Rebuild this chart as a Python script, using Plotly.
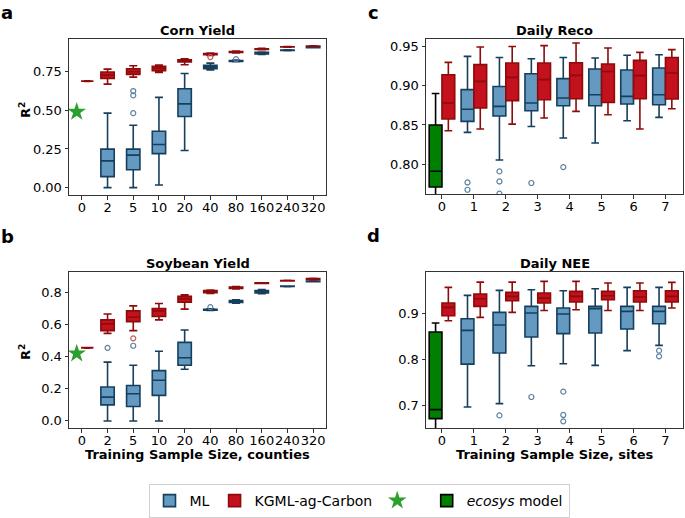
import plotly.graph_objects as go

# ---------------- data ----------------
corn_cats = ["0", "2", "5", "10", "20", "40", "80", "160", "240", "320"]
soy_cats = ["0", "2", "5", "10", "20", "40", "80", "160", "240", "320"]
site_cats = ["0", "1", "2", "3", "4", "5", "6", "7"]

# five-number summaries: (lower whisker, q1, median, q3, upper whisker)
corn_ml = [(0.000, 0.071, 0.173, 0.249, 0.482),
           (0.000, 0.115, 0.210, 0.249, 0.404),
           (0.017, 0.220, 0.279, 0.365, 0.584),
           (0.240, 0.460, 0.542, 0.640, 0.739),
           (0.761, 0.769, 0.780, 0.791, 0.806),
           (0.815, 0.817, 0.820, 0.822, 0.825),
           (0.862, 0.865, 0.870, 0.876, 0.878),
           (0.887, 0.888, 0.890, 0.891, 0.892),
           (0.905, 0.906, 0.908, 0.909, 0.910)]
corn_ml_outliers = {"5": [0.625, 0.597, 0.482], "80": [0.832]}
corn_kg = [(0.670, 0.707, 0.728, 0.748, 0.767),
           (0.715, 0.733, 0.750, 0.769, 0.789),
           (0.746, 0.756, 0.772, 0.785, 0.793),
           (0.795, 0.813, 0.819, 0.828, 0.834),
           (0.856, 0.860, 0.864, 0.867, 0.871),
           (0.872, 0.875, 0.877, 0.880, 0.884),
           (0.893, 0.895, 0.897, 0.899, 0.901),
           (0.909, 0.910, 0.911, 0.912, 0.913),
           (0.914, 0.915, 0.916, 0.917, 0.918)]
corn_kg_outliers = {"40": [0.845]}
corn_kg_zero = (0.687, 0.688, 0.689, 0.690, 0.691)
corn_ecosys = 0.49

soy_ml = [(0.000, 0.100, 0.148, 0.211, 0.366),
          (0.000, 0.090, 0.169, 0.221, 0.347),
          (0.000, 0.159, 0.253, 0.313, 0.434),
          (0.322, 0.347, 0.393, 0.489, 0.566),
          (0.687, 0.689, 0.692, 0.695, 0.698),
          (0.733, 0.737, 0.744, 0.750, 0.754),
          (0.792, 0.797, 0.806, 0.812, 0.817),
          (0.836, 0.837, 0.838, 0.839, 0.840),
          (0.866, 0.867, 0.869, 0.870, 0.871)]
soy_ml_outliers = {"2": [0.455], "5": [0.468], "40": [0.708]}
soy_kg = [(0.545, 0.562, 0.604, 0.629, 0.666),
          (0.562, 0.618, 0.645, 0.685, 0.716),
          (0.629, 0.650, 0.685, 0.700, 0.731),
          (0.696, 0.739, 0.760, 0.775, 0.785),
          (0.794, 0.798, 0.806, 0.812, 0.815),
          (0.822, 0.825, 0.829, 0.833, 0.836),
          (0.855, 0.856, 0.858, 0.859, 0.860),
          (0.871, 0.872, 0.873, 0.874, 0.875),
          (0.877, 0.880, 0.883, 0.886, 0.888)]
soy_kg_outliers = {"5": [0.514]}
soy_kg_zero = (0.453, 0.454, 0.455, 0.456, 0.457)
soy_ecosys = 0.42

reco_ecosys = (0.750, 0.771, 0.791, 0.850, 0.890)
reco_ml = [(0.8405, 0.8545, 0.8700, 0.8950, 0.9374),
           (0.8053, 0.8613, 0.8736, 0.8990, 0.9360),
           (0.8480, 0.8680, 0.8780, 0.9153, 0.9344),
           (0.8333, 0.8745, 0.8843, 0.9090, 0.9360),
           (0.8269, 0.8745, 0.8885, 0.9213, 0.9353),
           (0.8554, 0.8767, 0.8864, 0.9200, 0.9387),
           (0.8596, 0.8758, 0.8885, 0.9225, 0.9395)]
reco_ml_outliers = {"1": [0.7767, 0.7674], "2": [0.7908, 0.7780, 0.7625],
                    "3": [0.7760], "4": [0.7963]}
reco_kg = [(0.8426, 0.8575, 0.8780, 0.9140, 0.9297),
           (0.8448, 0.8716, 0.9055, 0.9268, 0.9493),
           (0.8510, 0.8810, 0.9106, 0.9290, 0.9500),
           (0.8588, 0.8820, 0.9077, 0.9290, 0.9510),
           (0.8673, 0.8834, 0.9131, 0.9293, 0.9544),
           (0.8630, 0.8787, 0.9180, 0.9277, 0.9480),
           (0.8448, 0.8834, 0.9128, 0.9323, 0.9425),
           (0.8707, 0.8830, 0.9162, 0.9360, 0.9459)]

nee_ecosys = (0.640, 0.6709, 0.6905, 0.860, 0.8797)
nee_ml = [(0.6964, 0.7900, 0.8636, 0.8890, 0.9400),
          (0.7036, 0.8142, 0.8753, 0.9029, 0.9509),
          (0.7865, 0.8490, 0.9015, 0.9160, 0.9524),
          (0.7909, 0.8564, 0.8993, 0.9124, 0.9500),
          (0.7873, 0.8578, 0.9110, 0.9160, 0.9545),
          (0.8193, 0.8666, 0.9050, 0.9160, 0.9574),
          (0.8309, 0.8780, 0.9050, 0.9160, 0.9574)]
nee_ml_outliers = {"2": [0.678], "3": [0.7182], "4": [0.7298, 0.679, 0.665],
                   "7": [0.8193, 0.8069]}
nee_kg = [(0.8847, 0.8956, 0.9138, 0.9233, 0.9574),
          (0.8920, 0.9160, 0.9327, 0.9430, 0.9690),
          (0.9029, 0.9284, 0.9378, 0.9465, 0.9690),
          (0.9070, 0.9233, 0.9340, 0.9450, 0.9705),
          (0.9087, 0.9255, 0.9378, 0.9487, 0.9705),
          (0.9070, 0.9305, 0.9393, 0.9487, 0.9670),
          (0.9070, 0.9255, 0.9364, 0.9500, 0.9670),
          (0.9124, 0.9255, 0.9378, 0.9500, 0.9683)]

# ---------------- style ----------------
ML_FILL, ML_LINE, ML_OUT = "#6499c1", "#163f5e", "#5d82a0"
KG_FILL, KG_LINE, KG_OUT = "#c3111e", "#8e0b0b", "#c45a5a"
ECO_FILL, ECO_LINE = "#008000", "#000000"
STAR = "#2ca02c"
FONT = "DejaVu Sans"

fig = go.Figure()


def add_box(stats, cats, all_cats, offset, width, fill, line, name, xa, ya,
            showlegend=False, rank=1):
    pos = [all_cats.index(c) + offset for c in cats]
    fig.add_trace(go.Box(
        x=pos,
        lowerfence=[s[0] for s in stats], q1=[s[1] for s in stats],
        median=[s[2] for s in stats], q3=[s[3] for s in stats],
        upperfence=[s[4] for s in stats],
        width=width, whiskerwidth=0.6, fillcolor=fill,
        line=dict(color=line, width=1.6), boxpoints=False,
        name=name, legendgroup=name, showlegend=showlegend, legendrank=rank,
        xaxis=xa, yaxis=ya, hoverinfo="skip"))


def add_outliers(outl, all_cats, offset, color, xa, ya):
    xs, ys = [], []
    for c, vals in outl.items():
        for v in vals:
            xs.append(all_cats.index(c) + offset)
            ys.append(v)
    fig.add_trace(go.Scatter(
        x=xs, y=ys, mode="markers", showlegend=False, xaxis=xa, yaxis=ya,
        marker=dict(symbol="circle-open", size=5, color=color,
                    line=dict(width=1.2, color=color)), hoverinfo="skip"))


# panel a & b (crop yields) : ML and KGML overlaid at each size
for (cats, ml, mlo, kg, kgo, kg0, eco, xa, ya, first) in [
        (corn_cats, corn_ml, corn_ml_outliers, corn_kg, corn_kg_outliers,
         corn_kg_zero, corn_ecosys, "x", "y", True),
        (soy_cats, soy_ml, soy_ml_outliers, soy_kg, soy_kg_outliers,
         soy_kg_zero, soy_ecosys, "x2", "y2", False)]:
    add_box(ml, cats[1:], cats, 0, 0.52, ML_FILL, ML_LINE, "ML", xa, ya,
            showlegend=first, rank=1)
    add_box(kg, cats[1:], cats, 0, 0.52, KG_FILL, KG_LINE, "KGML-ag-Carbon",
            xa, ya, showlegend=first, rank=2)
    add_box([kg0], cats[:1], cats, 0.21, 0.42, KG_FILL, KG_LINE,
            "KGML-ag-Carbon", xa, ya)
    add_outliers(mlo, cats, 0, ML_OUT, xa, ya)
    add_outliers(kgo, cats, 0, KG_OUT, xa, ya)
    fig.add_trace(go.Scatter(
        x=[cats.index("0") - 0.2], y=[eco], mode="markers", name=" ",
        legendgroup="star", showlegend=first, legendrank=3,
        marker=dict(symbol="star", size=14, color=STAR,
                    line=dict(width=0)), xaxis=xa, yaxis=ya,
        hoverinfo="skip"))

# panel c & d (sites): grouped side by side
for (eco, ml, mlo, kg, xa, ya, first) in [
        (reco_ecosys, reco_ml, reco_ml_outliers, reco_kg, "x3", "y3", True),
        (nee_ecosys, nee_ml, nee_ml_outliers, nee_kg, "x4", "y4", False)]:
    add_box([eco], site_cats[:1], site_cats, -0.2, 0.4, ECO_FILL, ECO_LINE,
            "<i>ecosys</i> model", xa, ya, showlegend=first, rank=4)
    add_box(ml, site_cats[1:], site_cats, -0.2, 0.4, ML_FILL, ML_LINE, "ML",
            xa, ya)
    add_box(kg, site_cats, site_cats, 0.2, 0.4, KG_FILL, KG_LINE,
            "KGML-ag-Carbon", xa, ya)
    add_outliers(mlo, site_cats, -0.2, ML_OUT, xa, ya)

W, H = 685, 518


def dx(a, b):
    return [a / W, b / W]


def dy(top, bottom):
    return [(H - bottom) / H, (H - top) / H]


axis_common = dict(showline=True, mirror=True, linecolor="#333333",
                   linewidth=1, ticks="outside", ticklen=3.5, tickwidth=1,
                   tickcolor="#333333", showgrid=False, zeroline=False,
                   tickfont=dict(family=FONT, size=13, color="black"))
x_common = dict(axis_common, tickangle=0, ticklabelstandoff=-3)

fig.update_layout(
    width=W, height=H, margin=dict(l=0, r=0, t=0, b=0),
    paper_bgcolor="white", plot_bgcolor="white", boxmode="overlay",
    font=dict(family=FONT, color="black"),
    xaxis=dict(x_common, domain=dx(69, 326), anchor="y",
               range=[-0.5, 9.5], tickvals=list(range(len(corn_cats))),
               ticktext=corn_cats),
    yaxis=dict(axis_common, domain=dy(39, 195), anchor="x",
               range=[-0.048, 0.962], tickvals=[0, 0.25, 0.5, 0.75],
               tickformat=".2f"),
    xaxis2=dict(x_common, domain=dx(69, 326), anchor="y2",
                range=[-0.5, 9.5], tickvals=list(range(len(soy_cats))),
                ticktext=soy_cats),
    yaxis2=dict(axis_common, domain=dy(272, 428), anchor="x2",
                range=[-0.044, 0.927], tickvals=[0, 0.2, 0.4, 0.6, 0.8],
                tickformat=".1f"),
    xaxis3=dict(x_common, domain=dx(426, 683), anchor="y3",
                range=[-0.5, 7.55], tickvals=list(range(len(site_cats))),
                ticktext=site_cats),
    yaxis3=dict(axis_common, domain=dy(39, 194), anchor="x3",
                range=[0.762, 0.9595], tickvals=[0.80, 0.85, 0.90, 0.95],
                tickformat=".2f"),
    xaxis4=dict(x_common, domain=dx(426, 683), anchor="y4",
                range=[-0.5, 7.55], tickvals=list(range(len(site_cats))),
                ticktext=site_cats),
    yaxis4=dict(axis_common, domain=dy(272, 428), anchor="x4",
                range=[0.6505, 0.991], tickvals=[0.7, 0.8, 0.9],
                tickformat=".1f"),
    legend=dict(orientation="h", x=359 / W, xanchor="center",
                y=(H - 501) / H,
                yanchor="middle", bordercolor="#d0d0d0", borderwidth=1,
                font=dict(family=FONT, size=14, color="black"),
                itemwidth=30, tracegroupgap=0, traceorder="normal"),
)

# titles, axis labels and panel letters: (text, x px, y px, size, angle, anchor)
annots = [
    ("<b>Corn Yield</b>", 197.5, 31, 13, 0, "middle"),
    ("<b>Soybean Yield</b>", 197.5, 263, 13, 0, "middle"),
    ("<b>Daily Reco</b>", 554.5, 31, 13, 0, "middle"),
    ("<b>Daily NEE</b>", 554.5, 263, 13, 0, "middle"),
    ("<b>R<sup>2</sup></b>", 25, 110, 13, -90, "middle"),
    ("<b>R<sup>2</sup></b>", 25, 352, 13, -90, "middle"),
    ("<b>Training Sample Size, counties</b>", 197.5, 454, 13, 0, "middle"),
    ("<b>Training Sample Size, sites</b>", 554.5, 454, 13, 0, "middle"),
    ("<b>a</b>", 7, 0, 18, 0, "top"),
    ("<b>b</b>", 7, 236, 18, 0, "middle"),
    ("<b>c</b>", 373, 0, 18, 0, "top"),
    ("<b>d</b>", 373, 235, 18, 0, "middle"),
]
for text, px, py, sz, ang, anc in annots:
    fig.add_annotation(text=text, x=px / W, y=(H - py) / H, xref="paper",
                       yref="paper", showarrow=False, xanchor="center",
                       yanchor=anc, textangle=ang,
                       font=dict(family=FONT, size=sz, color="black"))

# remove the browser's default 8px page margin so the figure fills the window
fig.write_html("out.html",
               config={"displayModeBar": False},
               post_script="document.body.style.margin='0';"
                           "document.body.style.overflow='hidden';")
